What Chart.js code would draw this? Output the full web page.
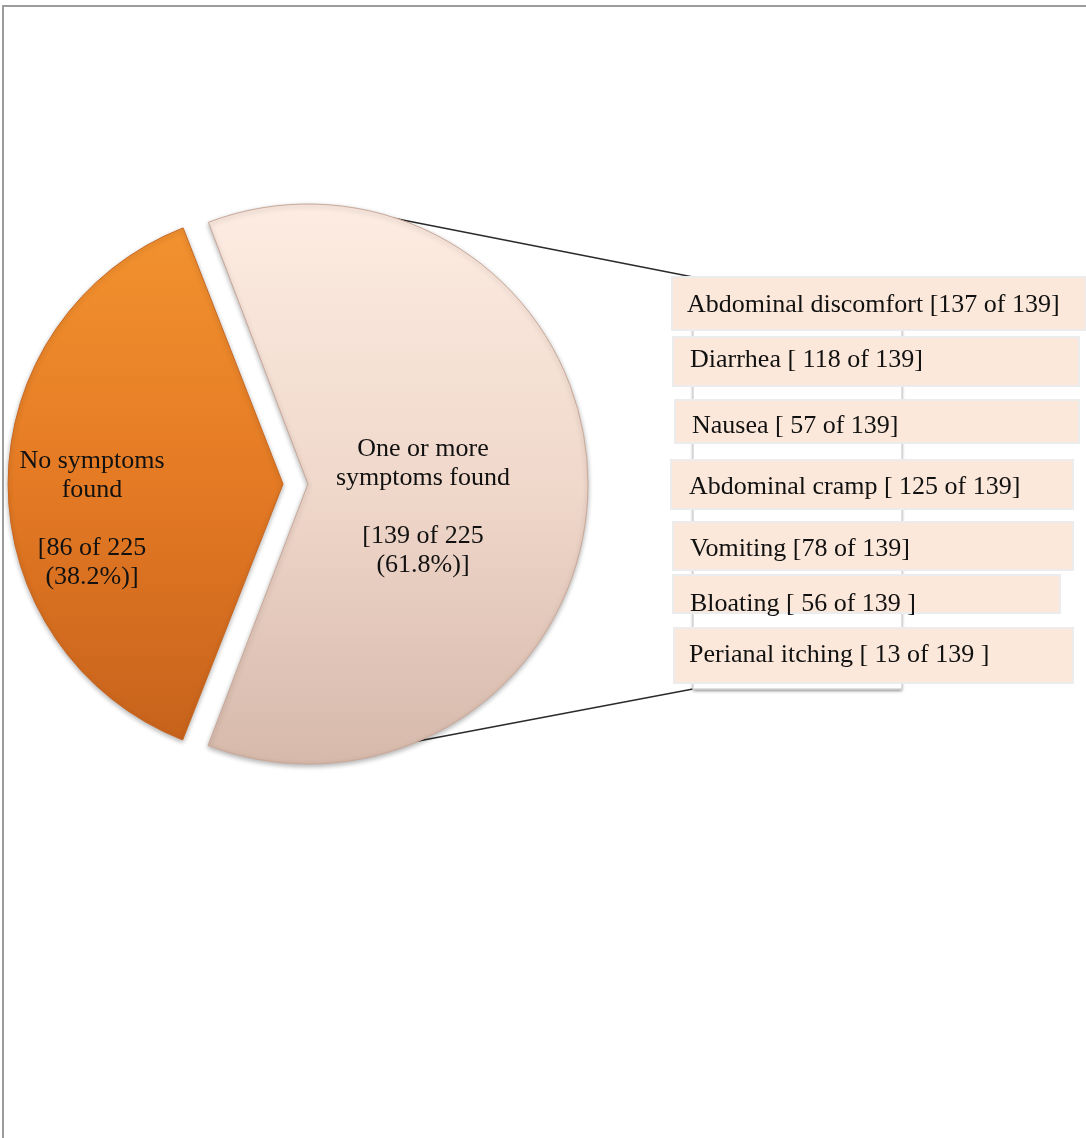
<!DOCTYPE html>
<html>
<head>
<meta charset="utf-8">
<title>Symptoms</title>
<script src="https://cdn.jsdelivr.net/npm/chart.js@4.4.0/dist/chart.umd.min.js"></script>
<style>
body { margin: 0; background: #fff; }
#wrap { position: relative; width: 1086px; height: 1138px; }
</style>
</head>
<body>
<div id="wrap"><canvas id="mycanvas1" width="1086" height="1138" style="width:1086px;height:1138px"></canvas></div>
<script>
// groupes du camembert
var groups = ["No symptoms found", "One or more symptoms found"];
var groupCounts = [86, 139];
var groupLines = [["No symptoms", "found"], ["One or more", "symptoms found"]];

// detail des symptomes (groupe "One or more")
var symptoms = ["Abdominal discomfort", "Diarrhea", "Nausea", "Abdominal cramp", "Vomiting", "Bloating", "Perianal itching"];
var symptomCounts = [137, 118, 57, 125, 78, 56, 13];
var symptomBrackets = ["[{n} of {t}]", "[ {n} of {t}]", "[ {n} of {t}]", "[ {n} of {t}]", "[{n} of {t}]", "[ {n} of {t} ]", "[ {n} of {t} ]"];

var total = groupCounts[0] + groupCounts[1];
var symptomTotal = groupCounts[1];

// mise en page des boites (x, y, largeur, hauteur) et du texte
var boxX = [672, 673, 675, 671, 673, 673, 674];
var boxY = [277, 337, 400, 460, 522, 575, 628];
var boxW = [414, 406, 404, 402, 400, 387, 399];
var boxH = [53, 49, 43, 49, 48, 38, 55];
var textX = [687, 690, 692, 689, 690, 690, 689];
var textBase = [312, 367, 433, 494, 556, 611, 662];

var serif = '"Liberation Serif", "Times New Roman", serif';
var labelAnchor = [[-206, -23], [125, -35]]; // decalage du texte par rapport au centre

var sliceFill = function(c) {
  var chart = c.chart;
  var area = chart.chartArea;
  if (!area) return c.dataIndex === 0 ? '#E57B25' : '#F0D9CC';
  var cy = (area.top + area.bottom) / 2;
  var g = chart.ctx.createLinearGradient(0, cy - 280, 0, cy + 280);
  if (c.dataIndex === 0) {
    g.addColorStop(0, '#F39430');
    g.addColorStop(0.5, '#E47A24');
    g.addColorStop(1, '#C4601B');
  } else {
    g.addColorStop(0, '#FDECE2');
    g.addColorStop(0.5, '#F0D8CB');
    g.addColorStop(1, '#D6B9AB');
  }
  return g;
};

var decor = {
  id: 'decor',
  beforeDraw: function(chart) {
    var ctx = chart.ctx;
    ctx.save();
    // cadre de la page
    ctx.strokeStyle = '#9c9c9c';
    ctx.lineWidth = 2;
    ctx.beginPath();
    ctx.moveTo(3, 1138);
    ctx.lineTo(3, 6);
    ctx.lineTo(1086, 6);
    ctx.stroke();
    // lignes de rappel vers la liste
    ctx.strokeStyle = '#2b2b2b';
    ctx.lineWidth = 1.6;
    ctx.beginPath();
    ctx.moveTo(362, 212);
    ctx.lineTo(693, 277);
    ctx.moveTo(392, 746);
    ctx.lineTo(693, 689);
    ctx.stroke();
    ctx.restore();
  },
  beforeDatasetDraw: function(chart) {
    var ctx = chart.ctx;
    ctx.save();
    ctx.shadowColor = 'rgba(0,0,0,0.3)';
    ctx.shadowBlur = 5;
    ctx.shadowOffsetY = 2;
  },
  afterDatasetDraw: function(chart) {
    chart.ctx.restore();
  },
  afterDatasetsDraw: function(chart) {
    var ctx = chart.ctx;
    var meta = chart.getDatasetMeta(0);
    ctx.save();
    ctx.font = '26px ' + serif;
    ctx.fillStyle = '#111111';
    ctx.textAlign = 'center';
    ctx.textBaseline = 'middle';
    for (var i = 0; i < groups.length; i++) {
      var arc = meta.data[i];
      var x = arc.x + labelAnchor[i][0];
      var y = arc.y + labelAnchor[i][1];
      var pct = (groupCounts[i] / total * 100).toFixed(1);
      var lines = [groupLines[i][0], groupLines[i][1], '', '[' + groupCounts[i] + ' of ' + total, '(' + pct + '%)]'];
      for (var k = 0; k < lines.length; k++) {
        ctx.fillText(lines[k], x, y + k * 29);
      }
    }

    // cadre derriere la liste
    ctx.save();
    ctx.shadowColor = 'rgba(0,0,0,0.45)';
    ctx.shadowBlur = 3;
    ctx.shadowOffsetY = 2;
    ctx.fillStyle = '#ffffff';
    ctx.fillRect(693, 300, 209, 389);
    ctx.restore();
    ctx.strokeStyle = '#d6d6d6';
    ctx.lineWidth = 1.5;
    ctx.strokeRect(693, 300, 209, 389);

    // boites des symptomes
    ctx.textAlign = 'left';
    ctx.textBaseline = 'alphabetic';
    for (var j = 0; j < symptoms.length; j++) {
      ctx.fillStyle = '#FBE8DA';
      ctx.fillRect(boxX[j], boxY[j], boxW[j], boxH[j]);
      ctx.strokeStyle = '#ececec';
      ctx.lineWidth = 2;
      ctx.strokeRect(boxX[j], boxY[j], boxW[j], boxH[j]);
      var txt = symptoms[j] + ' ' + symptomBrackets[j].replace('{n}', symptomCounts[j]).replace('{t}', symptomTotal);
      ctx.fillStyle = '#111111';
      ctx.fillText(txt, textX[j], textBase[j]);
    }
    ctx.restore();
  }
};

var ctx = document.getElementById('mycanvas1');
var pieChart = new Chart(ctx, {
  type: 'pie',
  data: {
    labels: groups,
    datasets: [{
      data: groupCounts,
      backgroundColor: sliceFill,
      borderColor: ['#c9661e', '#c9a898'],
      borderWidth: 1,
      offset: [60, 40],
      radius: 270,
      rotation: 201.25
    }]
  },
  options: {
    responsive: false,
    animation: false,
    layout: { padding: { left: 0, top: 184, right: 490, bottom: 354 } },
    plugins: { legend: { display: false }, tooltip: { enabled: false } }
  },
  plugins: [decor]
});
</script>
</body>
</html>
